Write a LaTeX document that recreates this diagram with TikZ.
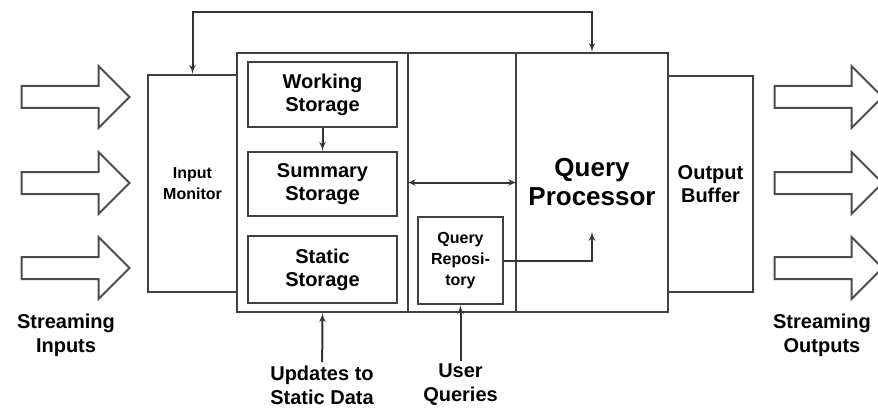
\documentclass[tikz,border=0pt]{standalone}
\usepackage{fontspec}
\setmainfont{Liberation Sans}
\usetikzlibrary{arrows,shapes.arrows}

\begin{document}
\begin{tikzpicture}[x=1pt,y=-1pt]
          \tikzset{
            block/.style={rectangle,draw=black!75,line width=2.4pt,inner sep=0pt,align=center,
              font=\bfseries\fontsize{20}{23}\selectfont},
            fat/.style={single arrow,draw=black!70,line width=2pt,fill=white,minimum height=108pt,
              inner xsep=0pt,inner ysep=10pt,single arrow head extend=20pt,single arrow tip angle=90},
            note/.style={align=center,font=\bfseries\fontsize{20}{24}\selectfont},
            edge/.style={->,> = latex',line width=2pt,draw=black!80}
          }
          \useasboundingbox (0,0) rectangle (878,409);
          % streams
          \node[fat] (in1) at (70,97) {};
          \node[fat] (in2) at (70,183) {};
          \node[fat] (in3) at (70,268) {};
          \node[fat] (out1) at (823,97) {};
          \node[fat] (out2) at (823,183) {};
          \node[fat] (out3) at (823,268) {};
          \node[note] (sin) at (66,335) {Streaming\\Inputs};
          \node[note] (sout) at (822,335) {Streaming\\Outputs};

          % blocks
          \node[block,minimum width=89pt,minimum height=217pt,font=\bfseries\fontsize{16}{21}\selectfont] (inmon) at (192.5,183.5) {Input\\Monitor};
          \node[block,minimum width=171pt,minimum height=259pt] (store) at (322.5,182.5) {};
          \node[block,minimum width=108pt,minimum height=259pt] (mid) at (462,182.5) {};
          \node[block,minimum width=152pt,minimum height=259pt,font=\bfseries\fontsize{26}{29}\selectfont] (proc) at (592,182.5) {Query\\Processor};
          \node[block,minimum width=85pt,minimum height=216pt] (outbuf) at (710.5,184) {Output\\Buffer};
          \node[block,minimum width=149pt,minimum height=65pt] (work) at (322.5,94.5) {Working\\Storage};
          \node[block,minimum width=149pt,minimum height=64pt] (summ) at (322.5,184) {Summary\\Storage};
          \node[block,minimum width=149pt,minimum height=67pt] (stat) at (322.5,269.5) {Static\\Storage};
          \node[block,minimum width=85pt,minimum height=87pt,font=\bfseries\fontsize{16}{21}\selectfont] (repo) at (460.5,260.5) {Query\\Reposi-\\tory};
          \coordinate (qin) at (592,232);
          \node[note] (upd) at (322,385) {Updates to\\Static Data};
          \node[note] (usr) at (460.5,385) {User\\Queries};

          %edges
          \draw[edge,<->] (inmon.north) -- ++(0,-62) -| (proc.north);
          \draw[edge] (work) -- (summ);
          \draw[edge,<->] (mid.west) -- (mid.east);
          \draw[edge] (repo.east) -| (qin);
          \draw[edge] (upd) -- (store.south);
          \draw[edge] (usr) -- (repo.south);
        \end{tikzpicture}
\end{document}
